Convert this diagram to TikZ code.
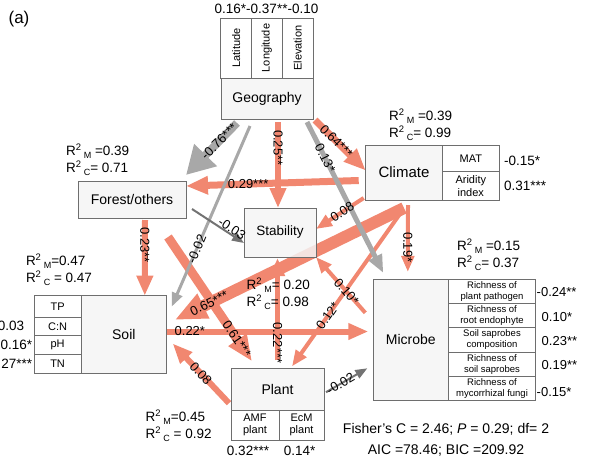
\documentclass[tikz,border=0pt]{standalone}
\usepackage{fontspec}
\setmainfont{Liberation Sans}
\usetikzlibrary{arrows.meta, positioning, backgrounds}
\definecolor{salmon}{RGB}{241,135,112}
\definecolor{greyarr}{RGB}{168,168,168}
\definecolor{darkarr}{RGB}{115,115,115}
\definecolor{boxline}{RGB}{110,110,110}
\definecolor{boxfill}{RGB}{244,244,244}
\newcommand{\fsz}[2]{\fontsize{#1}{#2}\selectfont}
\newcommand{\rsq}[1]{R\textsuperscript{2}\,\raisebox{-0.45ex}{\fsz{9}{9}#1}}

\begin{document}
\begin{tikzpicture}[x=1pt, y=-1pt, inner sep=0pt, outer sep=0pt, font=\fsz{13.5}{17}]
 \tikzstyle{block}=[draw=boxline, fill=boxfill, fill opacity=0.85, text opacity=1, line width=0.8pt, font=\fsz{14}{16}]
 \tikzstyle{cell}=[draw=boxline, fill=white, line width=0.8pt, align=center, font=\fsz{11}{12.5}]
 \tikzstyle{rsqlabel}=[anchor=west, align=left]
 \tikzstyle{coef}=[font=\fsz{13}{15}]
 \tikzstyle{redpath}=[draw=salmon, -{Triangle[length=8pt 2, width=6pt 1.6]}]
 \tikzstyle{greypath}=[draw=greyarr, -{Triangle[length=8pt 2, width=6pt 1.6]}]
 \tikzstyle{darkpath}=[draw=darkarr, line width=2pt, -{Triangle[length=8pt 2, width=6pt 1.6]}]

 \useasboundingbox (0,0) rectangle (593,458);
 \node[font=\fsz{17}{17}] (panel) at (19,19) {(a)};

 % geography
 \node[block, minimum width=92pt, minimum height=41pt] (geo) at (267,98.5) {Geography};
 \node[cell, rotate=90, minimum width=60pt, minimum height=30.8pt] (lat) at (236.1,48) {Latitude};
 \node[cell, rotate=90, minimum width=60pt, minimum height=30.8pt] (lon) at (266.9,48) {Longitude};
 \node[cell, rotate=90, minimum width=60pt, minimum height=30.8pt] (elev) at (297.6,48) {Elevation};
 \node (geoval) at (266.5,9) {0.16*-0.37**-0.10};

 % forest
 \node[block, minimum width=108pt, minimum height=37pt] (forest) at (132,199.5) {Forest/others};
 \node[rsqlabel] (forestr) at (66,160) {\rsq{M} =0.39\\\rsq{C}= 0.71};

 % climate
 \node[block, minimum width=76.6pt, minimum height=55pt, font=\fsz{15}{17}] (clim) at (404,172.5) {Climate};
 \node[cell, minimum width=57pt, minimum height=26.7pt, anchor=north west] (mat) at (clim.north east) {MAT};
 \node[cell, minimum width=57pt, minimum height=28.3pt, below=0pt of mat] (arid) {Aridity\\index};
 \node[right=4.7pt of mat, yshift=-2pt] (matval) {-0.15*};
 \node[right=4.7pt of arid] (aridval) {0.31***};
 \node[rsqlabel] (climr) at (389,124.5) {\rsq{M} =0.39\\\rsq{C}= 0.99};

 % stability
 \node[block, minimum width=72pt, minimum height=49pt, font=\fsz{13.5}{16}] (stab) at (280,232.5) {Stability};
 \node[rsqlabel] (stabr) at (246.7,294) {\rsq{M}= 0.20\\\rsq{C}= 0.98};

 % soil
 \node[block, minimum width=85.7pt, minimum height=77.6pt] (soil) at (123.8,334.5) {Soil};
 \node[cell, minimum width=46.7pt, minimum height=21.6pt, anchor=north east] (tp) at (soil.north west) {TP};
 \node[cell, minimum width=46.7pt, minimum height=18pt, below=0pt of tp] (cn) {C:N};
 \node[cell, minimum width=46.7pt, minimum height=19.4pt, below=0pt of cn] (ph) {pH};
 \node[cell, minimum width=46.7pt, minimum height=18.6pt, below=0pt of ph] (tn) {TN};
 \node[left=10pt of cn] (cnval) {0.03};
 \node[left=2pt of ph] (phval) {0.16*};
 \node[left=2pt of tn] (tnval) {0.27***};
 \node[rsqlabel] (soilr) at (26,270) {\rsq{M}=0.47\\\rsq{C} = 0.47};

 % microbe
 \node[block, minimum width=75pt, minimum height=121.7pt] (mic) at (410.8,339.8) {Microbe};
 \begin{scope}[every node/.append style={minimum width=87.4pt, minimum height=24.34pt}]
  \node[cell, font=\fsz{9.5}{11}, anchor=north west] (pathogen) at (mic.north east) {Richness of\\plant pathogen};
  \node[cell, font=\fsz{9.5}{11}, below=0pt of pathogen] (endophyte) {Richness of\\root endophyte};
  \node[cell, font=\fsz{9.5}{11}, below=0pt of endophyte] (saprocomp) {Soil saprobes\\composition};
  \node[cell, font=\fsz{9.5}{11}, below=0pt of saprocomp] (saprorich) {Richness of\\soil saprobes};
  \node[cell, font=\fsz{9.5}{11}, below=0pt of saprorich] (mycor) {Richness of\\mycorrhizal fungi};
 \end{scope}
 \node[coef, right=1pt of pathogen, yshift=-1pt] (pathval) {-0.24**};
 \node[coef, right=6pt of endophyte, yshift=-2pt] (endoval) {0.10*};
 \node[coef, right=6pt of saprocomp, yshift=-1pt] (compval) {0.23**};
 \node[coef, right=6pt of saprorich, yshift=-1pt] (richval) {0.19**};
 \node[coef, right=1pt of mycor, yshift=-4pt] (mycval) {-0.15*};
 \node[rsqlabel] (micr) at (457,254.5) {\rsq{M} =0.15\\\rsq{C}= 0.37};

 % plant
 \node[block, minimum width=93pt, minimum height=41.7pt] (plant) at (277.5,389.2) {Plant};
 \node[cell, minimum width=48pt, minimum height=30pt, anchor=north west] (amf) at (plant.south west) {AMF\\plant};
 \node[cell, minimum width=45pt, minimum height=30pt, anchor=north east] (ecm) at (plant.south east) {EcM\\plant};
 \node (amfval) at (248,450.5) {0.32***};
 \node (ecmval) at (299.7,450.5) {0.14*};
 \node[rsqlabel] (plantr) at (145.7,425.5) {\rsq{M}=0.45\\\rsq{C} = 0.92};

 \node[align=center, font=\fsz{14}{21}] (fit) at (446,439.5) {Fisher's C = 2.46; \textit{P} = 0.29; df= 2\\AIC =78.46; BIC =209.92};

 % paths, labels are set on top afterwards
 \begin{pgfonlayer}{background}
  \path ([xshift=11pt,yshift=-3pt]geo.south) edge [redpath, line width=6pt] coordinate[pos=0.3] (l25) ([xshift=-2pt]stab.north)
        ([xshift=2pt,yshift=-1pt]geo.south east) edge [redpath, line width=7pt] coordinate[pos=0.42] (l64) ([yshift=2pt]clim.west)
        ([xshift=-7pt,yshift=-8pt]clim.west) edge [redpath, line width=7pt] coordinate[pos=0.64] (l29) ([yshift=13.5pt]forest.east)
        ([xshift=13pt,yshift=-2pt]forest.south) edge [redpath, line width=6pt] coordinate[pos=0.33] (l23) ([xshift=21pt]soil.north)
        ([xshift=36pt,yshift=-19pt]forest.south) edge [redpath, line width=9pt] coordinate[pos=0.82] (l61) ([xshift=21pt,yshift=7pt]plant.north west)
        ([yshift=-8pt]clim.south) edge [redpath, line width=12pt] coordinate[pos=0.85] (l65) ([xshift=8pt,yshift=14.5pt]soil.east)
        ([xshift=-2pt,yshift=2pt]clim.south west) edge [redpath, line width=4pt] coordinate[pos=0.45] (l08c) ([yshift=3.5pt]stab.east)
        ([xshift=4pt,yshift=-5pt]clim.south) edge [redpath, line width=4pt] coordinate[pos=0.63] (l19) ([xshift=-3pt,yshift=7pt]mic.north)
        ([xshift=-2pt,yshift=-11pt]clim.south) edge [redpath, line width=4pt] coordinate[pos=0.675] (l12) ([xshift=-32pt,yshift=2pt]plant.north east)
        ([xshift=-8pt,yshift=27pt]mic.west) edge [redpath, line width=4pt] coordinate[pos=0.38] (l10) (stab.south east)
        ([yshift=8pt]plant.north) edge [redpath, line width=5pt] coordinate[pos=0.17] (l22p) ([xshift=-2.5pt,yshift=-1pt]stab.south)
        ([yshift=3pt]soil.east) edge [redpath, line width=6pt] coordinate[pos=0.115] (l22s) ([xshift=-5pt,yshift=8.3pt]mic.west)
        ([xshift=-2pt,yshift=-14pt]plant.west) edge [redpath, line width=6pt] coordinate[pos=0.5] (l08p) ([xshift=6pt,yshift=-9pt]soil.east);
  \path ([xshift=-30pt,yshift=-4pt]geo.south) edge [greypath, line width=8pt, -{Triangle[length=28pt, width=30pt]}] coordinate[pos=0.35] (l76) ([yshift=6pt]forest.north east)
        ([xshift=-17pt,yshift=-7pt]geo.south) edge [greypath, line width=3pt] coordinate[pos=0.68] (l02g) ([xshift=5pt,yshift=-11pt]soil.north east)
        ([xshift=40pt,yshift=-3pt]geo.south) edge [greypath, line width=5pt] coordinate[pos=0.24] (l13) ([xshift=10pt,yshift=6pt]mic.north west)
        ([xshift=6pt,yshift=-9.5pt]forest.east) edge [darkpath] coordinate[pos=0.72] (l03) ([yshift=-10.5pt]stab.west)
        ([xshift=2pt,yshift=-3pt]plant.east) edge [darkpath] coordinate[pos=0.35] (l02p) ([xshift=-6pt,yshift=-28.5pt]mic.west);
 \end{pgfonlayer}

 \node[coef, rotate=-90] at (l25) {0.25**};
 \node[coef, rotate=-45] at (l64) {0.64***};
 \node[coef] at (l29) {0.29***};
 \node[coef, rotate=-90] at (l23) {0.23**};
 \node[coef, rotate=-56] at (l61) {0.61***};
 \node[coef, rotate=26] at (l65) {0.65***};
 \node[coef, rotate=33] at (l08c) {0.08};
 \node[coef, rotate=-90] at (l19) {0.19*};
 \node[coef, rotate=55] at (l12) {0.12*};
 \node[coef, rotate=-49] at (l10) {0.10*};
 \node[coef, rotate=-90] at (l22p) {0.22***};
 \node[coef] at (l22s) {0.22*};
 \node[coef, rotate=-47] at (l08p) {0.08};
 \node[coef, rotate=45] at (l76) {-0.76***};
 \node[coef, rotate=67] at (l02g) {-0.02};
 \node[coef, rotate=-63] at (l13) {0.13*};
 \node[coef, rotate=-34, above=1pt] at (l03) {-0.03};
 \node[coef, rotate=30] at (l02p) {-0.02};
\end{tikzpicture}
\end{document}
